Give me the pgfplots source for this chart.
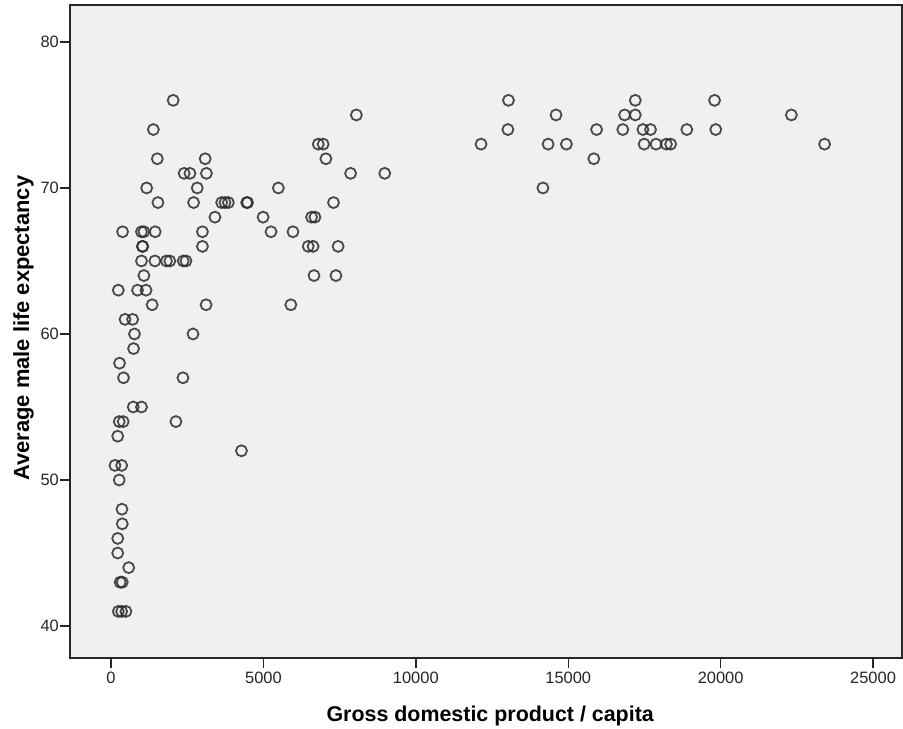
\documentclass[border=0pt]{standalone}
\usepackage{pgfplots}
\pgfplotsset{compat=1.18}
\usepackage{fontspec}
\setmainfont{Liberation Sans}
\definecolor{bgc}{RGB}{240,240,240}
\definecolor{mk}{RGB}{45,45,45}
\begin{document}
\begin{tikzpicture}[x=1bp,y=1bp]
\useasboundingbox (0,0) rectangle (903,729);
\begin{axis}[
  at={(70bp,71bp)}, anchor=south west,
  scale only axis, width=832bp, height=653bp,
  xmin=-1345, xmax=25950, ymin=37.81, ymax=82.53,
  xtick={0,5000,10000,15000,20000,25000},
  ytick={40,50,60,70,80},
  scaled x ticks=false,
  /pgf/number format/assume math mode=true,
  /pgf/number format/1000 sep={},
  tick align=outside, tick pos=left,
  major tick length=10bp,
  tick style={black!85, line width=1.4bp},
  axis line style={black!85, line width=1.6bp},
  axis background/.style={fill=bgc},
  tick label style={font=\fontsize{16.5}{17}\selectfont, text=black!85},
  xticklabel style={inner sep=0pt, anchor=north, yshift=-4bp},
  yticklabel style={inner sep=0pt, anchor=east, xshift=-1bp},
  xlabel={\fontsize{21.5}{23}\selectfont\bfseries Gross domestic product / capita},
  ylabel={\fontsize{22}{23}\selectfont\bfseries Average male life expectancy},
  xlabel style={at={([yshift=-64bp]axis description cs:0.505,0)}, anchor=base, inner sep=0pt},
  ylabel style={at={([xshift=-41bp]axis description cs:0,0.505)}, anchor=base, inner sep=0pt},
]
\addplot[only marks, mark=o, mark size=5.5bp,
  mark options={draw=mk, draw opacity=0.85, line width=1.8bp}] table {
x y
2040 76
13040 76
17200 76
19800 76
8050 75
14600 75
16850 75
17200 75
22320 75
1390 74
13020 74
15930 74
16790 74
17450 74
17700 74
18890 74
19840 74
6800 73
6960 73
12140 73
14340 73
14940 73
17490 73
17880 73
18220 73
18360 73
23410 73
1520 72
3090 72
7050 72
15840 72
2400 71
2590 71
3130 71
7860 71
8980 71
1170 70
2830 70
5490 70
14170 70
1540 69
2710 69
3630 69
3740 69
3850 69
4450 69
4480 69
7300 69
3410 68
4990 68
6580 68
6690 68
380 67
1000 67
1080 67
1450 67
3000 67
5250 67
5970 67
1030 66
1040 66
3000 66
6470 66
6630 66
7450 66
1000 65
1440 65
1820 65
1930 65
2370 65
2460 65
1080 64
6660 64
7380 64
240 63
870 63
1150 63
1350 62
3120 62
5900 62
460 61
710 61
770 60
2690 60
740 59
280 58
410 57
2360 57
730 55
1000 55
270 54
400 54
2130 54
220 53
4280 52
130 51
350 51
270 50
360 48
370 47
220 46
220 45
580 44
300 43
370 43
240 41
350 41
490 41
};
\end{axis}
\end{tikzpicture}
\end{document}
